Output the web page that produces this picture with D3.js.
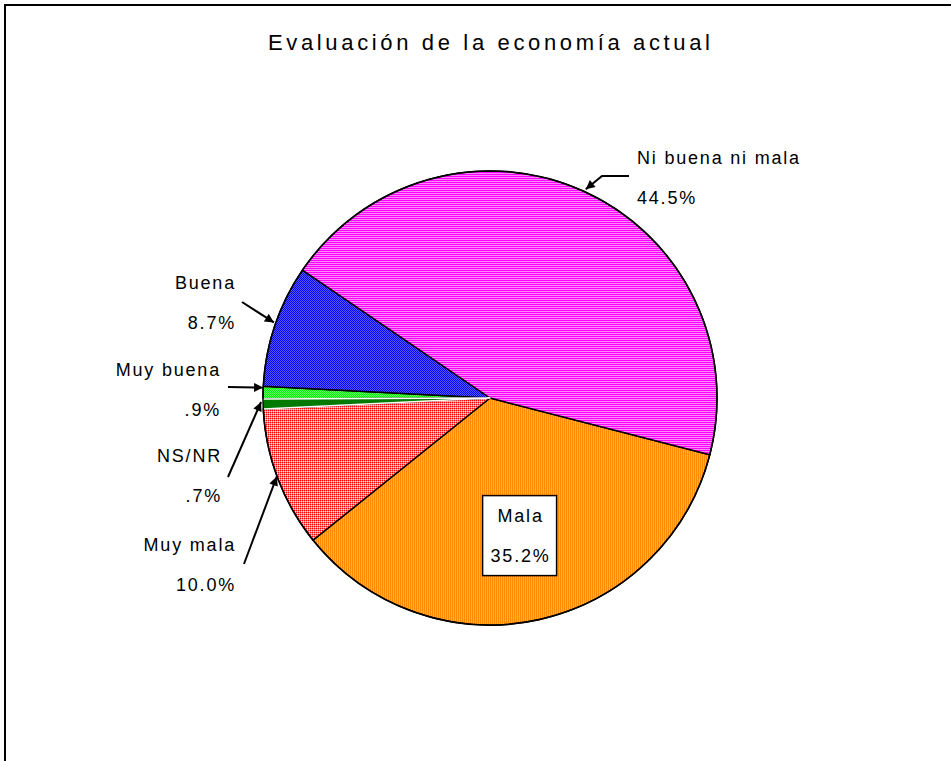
<!DOCTYPE html>
<html>
<head>
<meta charset="utf-8">
<script src="https://cdn.jsdelivr.net/npm/d3@7"></script>
<style>
html,body{margin:0;padding:0;background:#fff;}
svg{display:block;}
text{font-family:"Liberation Sans",Arial,sans-serif;fill:#000;}
</style>
</head>
<body>
<svg id="chart" width="951" height="761"></svg>
<script>
// ---- data ----
const categories = ["Mala", "Muy mala", "NS/NR", "Muy buena", "Buena", "Ni buena ni mala"];
const values = [35.2, 10.0, 0.7, 0.9, 8.7, 44.5];
const valueLabels = ["35.2%", "10.0%", ".7%", ".9%", "8.7%", "44.5%"];
const title = "Evaluación de la economía actual";

// ---- layout / style ----
const W = 951, H = 761;
const cx = 490, cy = 398, R = 227;
const startDeg = 104.5;
const fills = {
  "Mala": "url(#pOrange)", "Muy mala": "url(#pRed)", "NS/NR": "#007a00",
  "Muy buena": "url(#pGreen)", "Buena": "url(#pBlue)", "Ni buena ni mala": "url(#pMagenta)"
};
// label layout: x, baseline of name, anchor, arrow tail point(s)
const labelLayout = {
  "Ni buena ni mala": {x: 637, y: 164, anchor: "start", tail: [[629,176],[602,176]]},
  "Buena": {x: 234, y: 289, anchor: "end", tail: [[242,302]]},
  "Muy buena": {x: 219, y: 376, anchor: "end", tail: [[228,387]]},
  "NS/NR": {x: 220, y: 462, anchor: "end", tail: [[228,477]]},
  "Muy mala": {x: 234, y: 551, anchor: "end", tail: [[244,564]]}
};
const tipAdjust = {"Muy buena": [0,-5], "NS/NR": [-2,-2], "Buena": [-1,-3], "Muy mala": [-1,-2], "Ni buena ni mala": [2,-2]};
const labelSpacing = 1.8;

const svg = d3.select("#chart");
const defs = svg.append("defs");

function pattern(id, cells) {
  const p = defs.append("pattern").attr("id", id).attr("patternUnits", "userSpaceOnUse")
    .attr("width", 2).attr("height", 2);
  cells.forEach((c, i) => {
    p.append("rect").attr("x", i % 2).attr("y", Math.floor(i / 2)).attr("width", 1).attr("height", 1).attr("fill", c);
  });
}
pattern("pMagenta", ["#ff00ff", "#ff00ff", "#ff88ff", "#ff88ff"]);
pattern("pOrange", ["#ff8c00", "#ffb044", "#ff8c00", "#ffb044"]);
pattern("pBlue", ["#0000ff", "#5a5aff", "#5a5aff", "#0000ff"]);
pattern("pRed", ["#ff0000", "#ff8080", "#ff8080", "#ffd8d8"]);
pattern("pGreen", ["#00ee00", "#66ff66", "#66ff66", "#00ee00"]);

const arrowM = defs.append("marker").attr("id", "arr").attr("viewBox", "0 0 10 10")
  .attr("refX", 10).attr("refY", 5).attr("markerWidth", 11).attr("markerHeight", 9)
  .attr("markerUnits", "userSpaceOnUse").attr("orient", "auto");
arrowM.append("path").attr("d", "M0,0 L10,5 L0,10 Z").attr("fill", "#000");

// frame
svg.append("path").attr("d", `M5,${H} L5,5 L${W},5`).attr("fill", "none").attr("stroke", "#000").attr("stroke-width", 2);

// title
svg.append("text").attr("x", cx - 1).attr("y", 50).attr("text-anchor", "middle")
  .attr("font-size", 22).attr("textLength", 442).attr("lengthAdjust", "spacing").text(title);

const data = categories.map((c, i) => ({cat: c, value: values[i], label: valueLabels[i]}));
const start = startDeg * Math.PI / 180;
const pie = d3.pie().value(d => d.value).sort(null).startAngle(start).endAngle(start + 2 * Math.PI);
const arcs = pie(data);
const arc = d3.arc().innerRadius(0).outerRadius(R);
const edge = d3.arc().innerRadius(R).outerRadius(R);

const g = svg.append("g").attr("transform", `translate(${cx},${cy})`);
// black-outlined slices first, NS/NR (white outline) on top
const ordered = arcs.filter(d => d.data.cat !== "NS/NR").concat(arcs.filter(d => d.data.cat === "NS/NR"));
g.selectAll("path.slice").data(ordered).enter().append("path").attr("class", "slice")
  .attr("d", arc)
  .attr("fill", d => fills[d.data.cat])
  .attr("stroke", d => d.data.cat === "NS/NR" ? "#fff" : "#000")
  .attr("stroke-width", 1.5)
  .attr("stroke-linejoin", "round");
// outer rim
g.append("circle").attr("r", R).attr("fill", "none").attr("stroke", "#000").attr("stroke-width", 1.5);

// labels with arrows
arcs.forEach(d => {
  const cat = d.data.cat;
  const L = labelLayout[cat];
  if (!L) {
    // inside boxed label (Mala)
    const c = d3.arc().innerRadius(R * 0.62).outerRadius(R * 0.62).centroid(d);
    const bx = cx + c[0], by = cy + c[1];
    const box = svg.append("g");
    box.append("rect").attr("x", bx - 37).attr("y", by - 40).attr("width", 74).attr("height", 80)
      .attr("fill", "#fff").attr("stroke", "#000").attr("stroke-width", 1.5);
    box.append("text").attr("x", bx + 1).attr("y", by - 14).attr("text-anchor", "middle")
      .attr("font-size", 18).attr("letter-spacing", labelSpacing).text(cat);
    box.append("text").attr("x", bx + 1).attr("y", by + 26).attr("text-anchor", "middle")
      .attr("font-size", 18).attr("letter-spacing", labelSpacing).text(d.data.label);
    return;
  }
  const dx = L.anchor === "end" ? 2 : 0;
  svg.append("text").attr("x", L.x + dx).attr("y", L.y).attr("text-anchor", L.anchor)
    .attr("font-size", 18).attr("letter-spacing", labelSpacing).text(cat);
  svg.append("text").attr("x", L.x + dx).attr("y", L.y + 40).attr("text-anchor", L.anchor)
    .attr("font-size", 18).attr("letter-spacing", labelSpacing).text(d.data.label);
  const e = edge.centroid(d);
  const adj = tipAdjust[cat] || [0, 0];
  const tip = [cx + e[0] + adj[0], cy + e[1] + adj[1]];
  const pts = L.tail.concat([tip]);
  svg.append("path").attr("d", d3.line()(pts)).attr("fill", "none").attr("stroke", "#000")
    .attr("stroke-width", 2).attr("marker-end", "url(#arr)");
});
</script>
</body>
</html>
